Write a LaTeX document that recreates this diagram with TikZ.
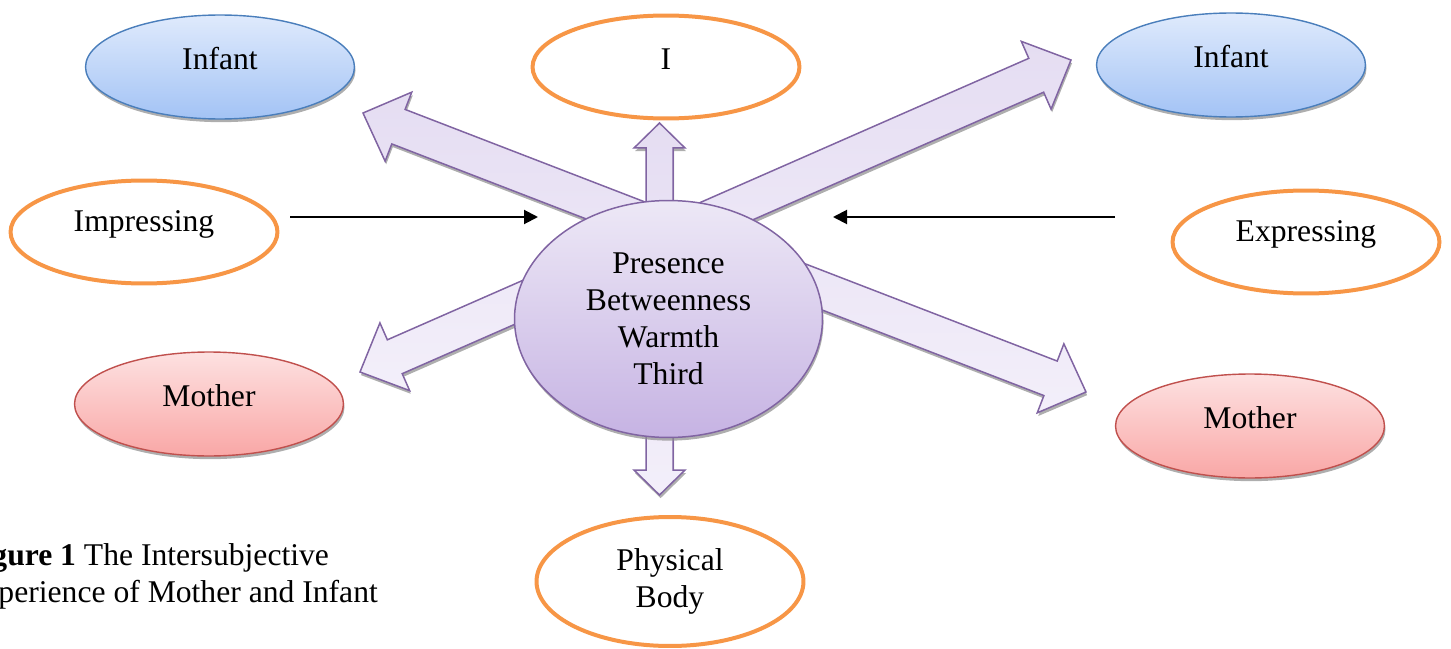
\documentclass[tikz,border=0pt]{standalone}
\usepackage{fontspec}
\setmainfont{Liberation Serif}
\usepackage{xcolor}
\usepackage{tikz}
\usetikzlibrary{positioning,arrows.meta,calc,shadows,shapes.geometric}
\definecolor{infantline}{RGB}{74,126,187}
\definecolor{infanttop}{RGB}{223,234,252}
\definecolor{infantbottom}{RGB}{163,195,245}
\definecolor{motherline}{RGB}{192,80,77}
\definecolor{mothertop}{RGB}{253,225,225}
\definecolor{motherbottom}{RGB}{249,167,166}
\definecolor{selfline}{RGB}{247,150,70}
\definecolor{coreline}{RGB}{128,100,162}
\definecolor{coretop}{RGB}{237,232,246}
\definecolor{corebottom}{RGB}{198,179,227}
\definecolor{arrowtop}{RGB}{229,221,242}
\definecolor{arrowbottom}{RGB}{243,239,250}
\tikzset{
    soft shadow/.style={drop shadow={shadow xshift=0.6pt, shadow yshift=-1.8pt, fill=black!45, opacity=0.7}},
    oval/.style={ellipse, minimum width=5.38cm, minimum height=2.08cm, inner sep=0pt},
    infant oval/.style={oval, draw=infantline, line width=0.8pt, top color=infanttop, bottom color=infantbottom, soft shadow},
    mother oval/.style={oval, draw=motherline, line width=0.8pt, top color=mothertop, bottom color=motherbottom, soft shadow},
    self oval/.style={oval, minimum width=5.34cm, minimum height=2.06cm, draw=selfline, line width=0.08cm, fill=white},
    core oval/.style={ellipse, minimum width=6.16cm, minimum height=4.74cm, inner sep=0pt, align=center, draw=coreline, line width=0.85pt, top color=coretop, bottom color=corebottom, soft shadow},
    fat arrow/.style={draw=coreline, line width=0.85pt, top color=arrowtop, bottom color=arrowbottom, soft shadow},
    push arrow/.style={-{Triangle[length=0.28cm, width=0.28cm]}, line width=0.04cm},
    oval label/.style={yshift=0.16cm}
}
% double headed block arrow: from, to, shaft half width, head half width, head length
\newcommand{\fatarrow}[5]{%
    \draw[fat arrow] let \p1=($(#2)-(#1)$), \n1={atan2(\y1,\x1)} in
        (#1) -- ($(#1)+(\n1:#5)+(\n1+90:#4)$) -- ($(#1)+(\n1:#5)+(\n1+90:#3)$)
        -- ($(#2)+(\n1+180:#5)+(\n1+90:#3)$) -- ($(#2)+(\n1+180:#5)+(\n1+90:#4)$)
        -- (#2) -- ($(#2)+(\n1+180:#5)+(\n1-90:#4)$) -- ($(#2)+(\n1+180:#5)+(\n1-90:#3)$)
        -- ($(#1)+(\n1:#5)+(\n1-90:#3)$) -- ($(#1)+(\n1:#5)+(\n1-90:#4)$) -- cycle;}

\begin{document}
\begin{tikzpicture}[x=0.02cm, y=-0.02cm, font=\fontsize{18}{21}\selectfont]
    \useasboundingbox (0,0) rectangle (1451,649);
    \clip (0,0) rectangle (1451,649);

    % Block arrows out of the centre
    \coordinate (nwTip) at (363,113);
    \coordinate (seTip) at (1086,392);
    \coordinate (swTip) at (360,372);
    \coordinate (neTip) at (1071,60);
    \coordinate (upTip) at (659.5,123);
    \coordinate (downTip) at (659.5,495);
    \fatarrow{upTip}{downTip}{0.27cm}{0.51cm}{0.5cm}
    \fatarrow{nwTip}{seTip}{0.37cm}{0.74cm}{0.76cm}
    \fatarrow{swTip}{neTip}{0.37cm}{0.74cm}{0.76cm}

    % Centre
    \node[core oval] (core) at (668.5,319) {Presence\\Betweenness\\Warmth\\Third};

    % Outer ovals
    \node[infant oval, label={[oval label, name=infantLtext]center:Infant}] (infantL) at (220,67) {};
    \node[infant oval, label={[oval label, name=infantRtext]center:Infant}] (infantR) at (1231,65) {};
    \node[self oval, label={[oval label, name=selfText]center:I}] (self) at (666,67) {};
    \node[self oval, label={[oval label, name=impressText]center:Impressing}] (impress) at (144,232) {};
    \node[self oval, label={[oval label, name=expressText]center:Expressing}] (express) at (1306,242) {};
    \node[mother oval, label={[oval label, name=motherLtext]center:Mother}] (motherL) at (209,404) {};
    \node[mother oval, label={[oval label, name=motherRtext]center:Mother}] (motherR) at (1250,426) {};
    \node[self oval, minimum height=2.58cm, align=center] (body) at (670,581.5) {Physical\\Body};

    % Impressing and expressing
    \coordinate (impFrom) at (290,217);
    \coordinate (impTo) at (538,217);
    \coordinate (expFrom) at (1115,217);
    \coordinate (expTo) at (833,217);
    \draw[push arrow] (impFrom) -- (impTo);
    \draw[push arrow] (expFrom) -- (expTo);

    % Caption
    \node[anchor=west, align=left, inner sep=0pt] (caption) at (-37,576)
        {\textbf{Figure 1} The Intersubjective\\Experience of Mother and Infant};
\end{tikzpicture}
\end{document}
